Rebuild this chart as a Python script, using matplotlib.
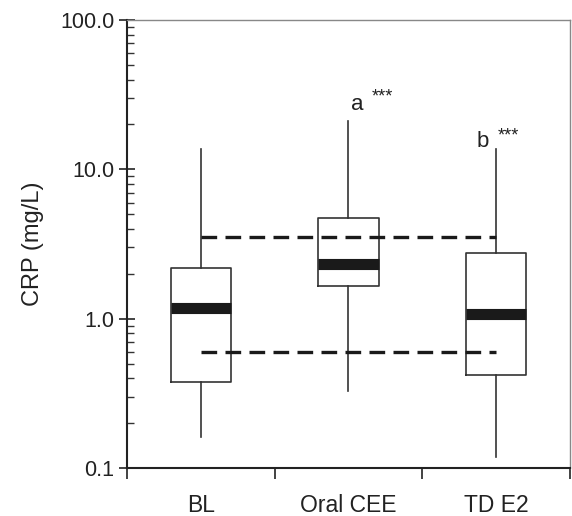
import numpy as np
import matplotlib
matplotlib.use("Agg")
import matplotlib.pyplot as plt
from matplotlib.ticker import FixedLocator, FixedFormatter, LogLocator, NullFormatter

plt.rcParams['font.family'] = ['Liberation Sans', 'DejaVu Sans']

# data
groups  = ["BL", "Oral CEE", "TD E2"]
q1      = [0.376, 1.65, 0.42]
medians = [1.18, 2.31, 1.08]
q3      = [2.20, 4.70, 2.75]
whislo  = [0.161, 0.327, 0.119]
whishi  = [13.8, 21.1, 13.8]

# reference range (dashed)
ref_hi = 3.52
ref_lo = 0.60

# significance marks
sig_letters = ["", "a", "b"]
sig_stars   = ["", "***", "***"]

# where the marks sit relative to the whisker top (x offset, y factor)
letter_dx = [0, 0.06, -0.09]
letter_fy = [1, 1.18, 1.02]
star_dx   = [0, 0.23, 0.08]
star_fy   = [1, 1.45, 1.22]

fig = plt.figure(figsize=(5.72, 5.16), dpi=100)
ax = fig.add_axes([0.222, 0.093, 0.7745, 0.868])

stats = []
for i in range(len(groups)):
    stats.append(dict(label=groups[i], q1=q1[i], med=medians[i], q3=q3[i],
                      whislo=whislo[i], whishi=whishi[i], fliers=[]))

pos = np.arange(1, len(groups) + 1)
ax.bxp(stats, positions=pos, widths=0.41, showcaps=False, showfliers=False,
       boxprops=dict(color='#333333', linewidth=1.2),
       whiskerprops=dict(color='#333333', linewidth=1.2),
       medianprops=dict(color='#1a1a1a', linewidth=8, solid_capstyle='butt'))

# dashed reference lines from first to last group
for yv in [ref_hi, ref_lo]:
    ax.plot([pos[0], pos[-1]], [yv, yv], color='#1a1a1a', linewidth=2.4,
            dashes=(4.7, 2.5), solid_capstyle='butt', dash_capstyle='butt')

# letters and stars
for i in range(len(groups)):
    if sig_letters[i] == "":
        continue
    top = whishi[i]
    ax.text(pos[i] + letter_dx[i], top * letter_fy[i], sig_letters[i], fontsize=16,
            ha='center', va='baseline', color='#222222')
    ax.text(pos[i] + star_dx[i], top * star_fy[i], sig_stars[i], fontsize=13,
            ha='center', va='center', color='#222222')

ax.set_yscale('log')
ax.set_ylim(0.1, 100)
ax.set_xlim(0.5, len(groups) + 0.5)

ax.yaxis.set_major_locator(FixedLocator([0.1, 1, 10, 100]))
ax.yaxis.set_major_formatter(FixedFormatter(["0.1", "1.0", "10.0", "100.0"]))
ax.yaxis.set_minor_locator(LogLocator(base=10, subs=np.arange(2, 10)))
ax.yaxis.set_minor_formatter(NullFormatter())
ax.tick_params(axis='y', which='major', direction='inout', length=12, width=1.2,
               labelsize=15.5, pad=3, colors='#222222')
ax.tick_params(axis='y', which='minor', direction='in', length=5, width=1.0,
               colors='#333333')

# x: boundary ticks, labels at box centres
ax.set_xticks(np.arange(0.5, len(groups) + 1, 1.0))
ax.set_xticklabels([])
ax.set_xticks(pos, minor=True)
ax.set_xticklabels(groups, minor=True)
ax.tick_params(axis='x', which='major', direction='out', length=8, width=1.2,
               colors='#222222')
ax.tick_params(axis='x', which='minor', length=0, labelsize=16.5, pad=19,
               colors='#222222')

ax.set_ylabel("CRP (mg/L)", fontsize=17, labelpad=12, color='#222222')

for s in ['left', 'bottom']:
    ax.spines[s].set_color('#222222')
    ax.spines[s].set_linewidth(1.5)
for s in ['top', 'right']:
    ax.spines[s].set_color('#888888')
    ax.spines[s].set_linewidth(1.0)

fig.savefig("out.png", dpi=100)
